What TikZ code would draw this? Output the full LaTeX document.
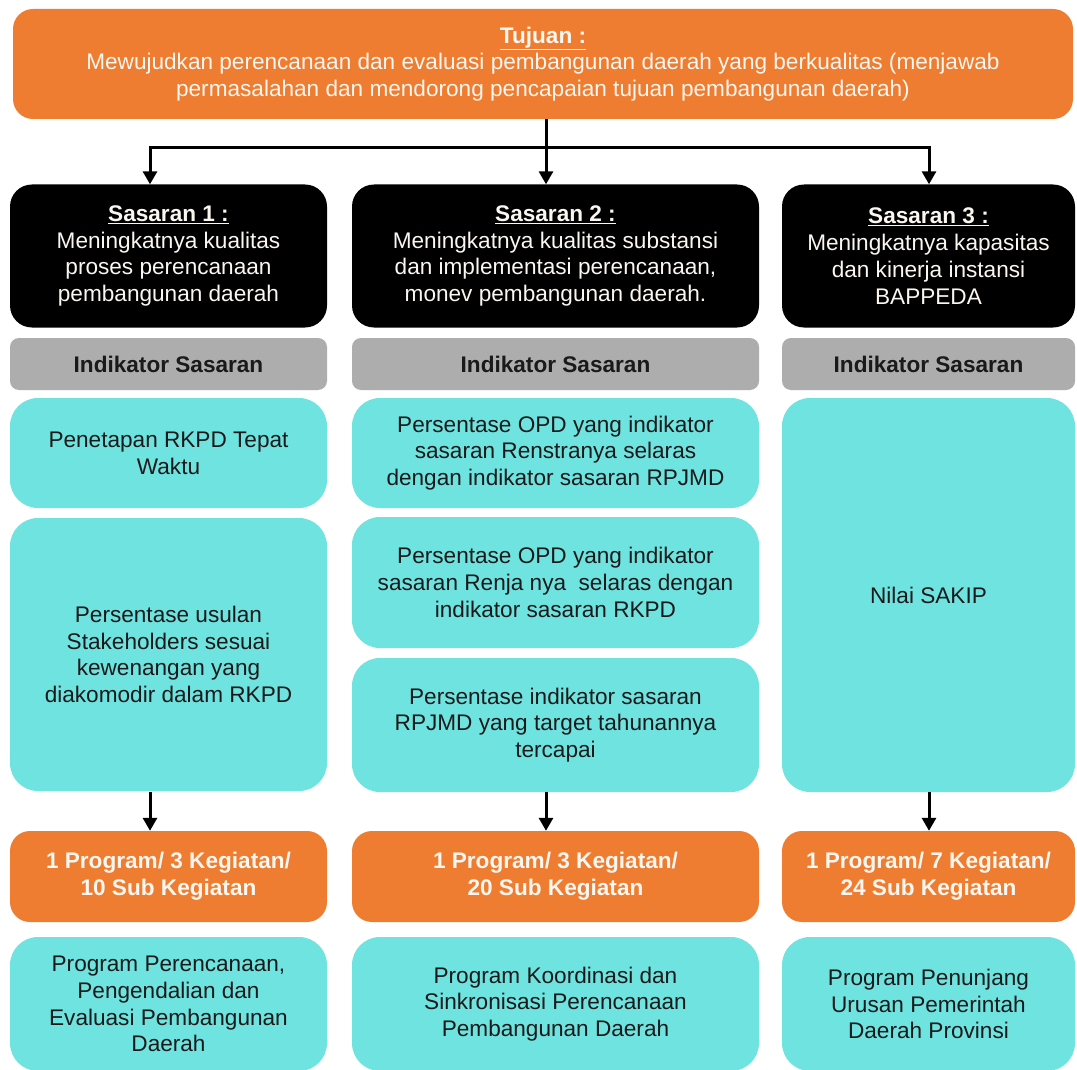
\documentclass[tikz,border=0pt]{standalone}
\usepackage{fontspec}
\setmainfont{Liberation Sans}
\usetikzlibrary{arrows.meta,calc}
\definecolor{orangeB}{HTML}{EE7D31}
\definecolor{cyanB}{HTML}{6FE3E0}
\definecolor{grayB}{HTML}{ADADAD}
\definecolor{txtD}{HTML}{1A1A1A}
\definecolor{txtW}{HTML}{FAF6F0}
\tikzset{
  box/.style={inner sep=0pt, align=center, font=\fontsize{22.6}{26.8}\selectfont},
  topbox/.style={box, fill=orangeB, text=txtW, rounded corners=20pt},
  sasbox/.style={box, fill=black, text=txtW, rounded corners=22pt},
  indhead/.style={box, fill=grayB, text=txtD, rounded corners=9pt, font=\fontsize{22.6}{26.8}\selectfont\bfseries},
  indbox/.style={box, fill=cyanB, text=txtD, rounded corners=28pt},
  progbox/.style={box, fill=orangeB, text=txtW, rounded corners=20pt, font=\fontsize{22.6}{26.8}\selectfont\bfseries},
  conn/.style={line width=3pt, -{Triangle[width=14pt,length=13pt]}},
  plain/.style={line width=3pt}
}
\begin{document}
\begin{tikzpicture}[x=1pt,y=-1pt]
\useasboundingbox (0,0) rectangle (1077,1070);
\fill[white] (0,0) rectangle (1077,1070);

\node[topbox, minimum width=1060pt, minimum height=110pt] (tuj) at (543,64)
  {\underline{\textbf{Tujuan :}}\\Mewujudkan perencanaan dan evaluasi pembangunan daerah yang berkualitas (menjawab\\permasalahan dan mendorong pencapaian tujuan pembangunan daerah)};

\node[sasbox, minimum width=317pt, minimum height=143pt] (s1) at (168.5,256)
  {\underline{\textbf{Sasaran 1 :}}\\Meningkatnya kualitas\\proses perencanaan\\pembangunan daerah};
\node[sasbox, minimum width=407pt, minimum height=143pt] (s2) at (555.5,256)
  {\underline{\textbf{Sasaran 2 :}}\\Meningkatnya kualitas substansi\\dan implementasi perencanaan,\\monev pembangunan daerah.};
\node[sasbox, minimum width=293pt, minimum height=143pt] (s3) at (928.5,256)
  {\underline{\textbf{Sasaran 3 :}}\\Meningkatnya kapasitas\\dan kinerja instansi\\BAPPEDA};

\node[indhead, minimum width=317pt, minimum height=52pt] (g1) at (168.5,364) {Indikator Sasaran};
\node[indhead, minimum width=407pt, minimum height=52pt] (g2) at (555.5,364) {Indikator Sasaran};
\node[indhead, minimum width=293pt, minimum height=52pt] (g3) at (928.5,364) {Indikator Sasaran};

\node[indbox, minimum width=317pt, minimum height=110pt] (i1a) at (168.5,453)
  {Penetapan RKPD Tepat\\Waktu};
\node[indbox, minimum width=317pt, minimum height=273pt] (i1b) at (168.5,654.5)
  {Persentase usulan\\Stakeholders sesuai\\kewenangan yang\\diakomodir dalam RKPD};

\node[indbox, minimum width=407pt, minimum height=110pt] (i2a) at (555.5,453)
  {Persentase OPD yang indikator\\sasaran Renstranya selaras\\dengan indikator sasaran RPJMD};
\node[indbox, minimum width=407pt, minimum height=131pt] (i2b) at (555.5,582.5)
  {Persentase OPD yang indikator\\sasaran Renja nya\ \ selaras dengan\\indikator sasaran RKPD};
\node[indbox, minimum width=407pt, minimum height=134pt] (i2c) at (555.5,725)
  {Persentase indikator sasaran\\RPJMD yang target tahunannya\\tercapai};

\node[indbox, minimum width=293pt, minimum height=394pt] (i3) at (928.5,595)
  {Nilai SAKIP};

\node[progbox, minimum width=317pt, minimum height=91pt] (p1) at (168.5,876.5)
  {1 Program/ 3 Kegiatan/\\10 Sub Kegiatan};
\node[progbox, minimum width=407pt, minimum height=91pt] (p2) at (555.5,876.5)
  {1 Program/ 3 Kegiatan/\\20 Sub Kegiatan};
\node[progbox, minimum width=293pt, minimum height=91pt] (p3) at (928.5,876.5)
  {1 Program/ 7 Kegiatan/\\24 Sub Kegiatan};

\node[indbox, minimum width=317pt, minimum height=134pt] (q1) at (168.5,1004)
  {Program Perencanaan,\\Pengendalian dan\\Evaluasi Pembangunan\\Daerah};
\node[indbox, minimum width=407pt, minimum height=134pt] (q2) at (555.5,1004)
  {Program Koordinasi dan\\Sinkronisasi Perencanaan\\Pembangunan Daerah};
\node[indbox, minimum width=293pt, minimum height=134pt] (q3) at (928.5,1004)
  {Program Penunjang\\Urusan Pemerintah\\Daerah Provinsi};

% top connectors
\coordinate (jm) at (546,148);
\coordinate (jl) at (150,148);
\coordinate (jr) at (929,148);
\draw[plain] (tuj.south -| jm) -- (jm);
\draw[plain, line cap=rect] (jl) -- (jr);
\draw[conn] (jl) -- (jl |- s1.north);
\draw[conn] (jm) -- (jm |- s2.north);
\draw[conn] (jr) -- (jr |- s3.north);

% lower connectors
\coordinate (b1) at (150,792);
\coordinate (b2) at (546,792);
\coordinate (b3) at (929,792);
\draw[conn] (b1) -- (b1 |- p1.north);
\draw[conn] (b2) -- (b2 |- p2.north);
\draw[conn] (b3) -- (b3 |- p3.north);
\end{tikzpicture}
\end{document}
